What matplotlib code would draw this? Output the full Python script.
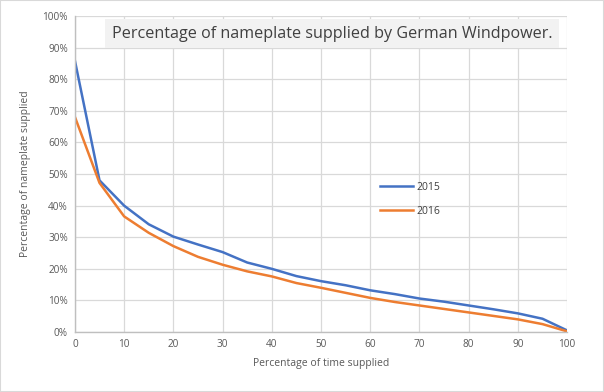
import matplotlib
matplotlib.use("Agg")
import matplotlib.pyplot as plt
from matplotlib.ticker import FuncFormatter

x = [0, 5, 10, 15, 20, 25, 30, 35, 40, 45, 50, 55, 60, 65, 70, 75, 80, 85, 90, 95, 100]
y2015 = [85.9, 48.0, 40.0, 34.1, 30.2, 27.7, 25.3, 22.0, 20.0, 17.7, 16.1, 14.8, 13.2, 12.0, 10.6, 9.6, 8.4, 7.2, 5.9, 4.2, 0.5]
y2016 = [68.1, 47.2, 36.6, 31.4, 27.2, 23.8, 21.3, 19.2, 17.6, 15.5, 14.0, 12.4, 10.8, 9.5, 8.4, 7.3, 6.2, 5.1, 4.0, 2.5, 0.2]

title = "Percentage of nameplate supplied by German Windpower."
xlabel = "Percentage of time supplied"
ylabel = "Percentage of nameplate supplied"

plt.rcParams['font.family'] = ['Open Sans', 'DejaVu Sans']

fig = plt.figure(figsize=(6.04, 3.92), dpi=100)
ax = fig.add_axes([0.124, 0.153, 0.815, 0.806])

ax.plot(x, y2015, color='#4472C4', lw=1.8, label='2015')
ax.plot(x, y2016, color='#ED7D31', lw=1.8, label='2016')

ax.set_xlim(0, 100)
ax.set_ylim(0, 100)
ax.set_xticks(range(0, 101, 10))
ax.set_yticks(range(0, 101, 10))
ax.yaxis.set_major_formatter(FuncFormatter(lambda v, p: f"{int(v)}%"))
ax.grid(True, color='#d9d9d9', lw=0.9)
ax.set_axisbelow(True)
for s in ['top', 'right']:
    ax.spines[s].set_visible(False)
for s in ['left', 'bottom']:
    ax.spines[s].set_color('#bfbfbf')
    ax.spines[s].set_linewidth(1.0)
ax.tick_params(length=0, labelsize=7.2, colors='#595959', pad=5)
ax.set_xlabel(xlabel, fontsize=7.5, color='#595959', labelpad=6)
ax.set_ylabel(ylabel, fontsize=7.5, color='#595959', labelpad=8)

ax.text(0.522, 0.944, title, transform=ax.transAxes, ha='center', va='center',
        fontsize=11.6, color='#404040',
        bbox=dict(facecolor='#f2f2f2', edgecolor='none', boxstyle='square,pad=0.4'))

leg = ax.legend(loc='center left', bbox_to_anchor=(0.6, 0.42), frameon=False,
                fontsize=7.5, handlelength=3.2, labelspacing=1.3, handletextpad=0.3)
for t in leg.get_texts():
    t.set_color('#404040')

fig.patches.append(plt.Rectangle((0, 0), 1, 1, transform=fig.transFigure,
                                 fill=False, edgecolor='#d9d9d9', lw=1.5))
fig.savefig("out.png", dpi=100, facecolor='white')
